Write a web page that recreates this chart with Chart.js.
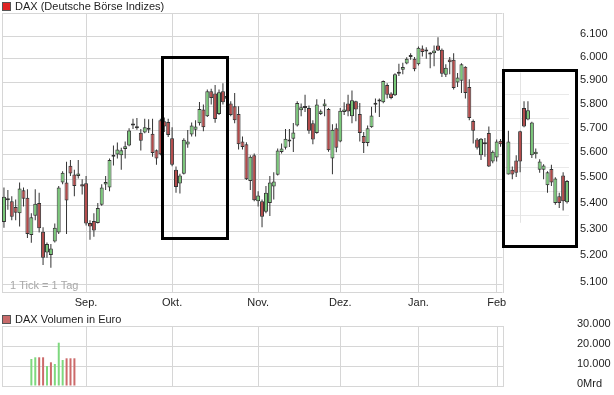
<!DOCTYPE html>
<html>
<head>
<meta charset="utf-8">
<script src="https://cdn.jsdelivr.net/npm/chart.js@4.4.1/dist/chart.umd.min.js"></script>
<style>
    html, body { margin: 0; padding: 0; background: #fff; }
    #wrap { position: relative; width: 614px; height: 395px; overflow: hidden; }
    #price-canvas { position: absolute; left: 0; top: 0; }
    #volume-canvas { position: absolute; left: 0; top: 310px; }
</style>
</head>
<body>
<div id="wrap">
    <canvas id="price-canvas" width="614" height="310"></canvas>
    <canvas id="volume-canvas" width="614" height="85"></canvas>
</div>
<script>
// --- data ---
const TITLE = 'DAX (Deutsche Börse Indizes)';
const VOLUME_TITLE = 'DAX Volumen in Euro';
const TICK_NOTE = '1 Tick = 1 Tag';

const FIRST_DAY = '2009-08-03';
const CLOSED_DAYS = ['2009-12-24', '2009-12-25', '2009-12-31', '2010-01-01'];
const DAY_COUNT = 145;      // trading days on the x axis (incl. the framed inset)
const MAIN_DAY_COUNT = 128; // days inside the regular plot frame
const MONTH_LABELS = ['Jan.', 'Feb', 'Mrz.', 'Apr.', 'Mai', 'Jun.', 'Jul.', 'Aug.', 'Sep.', 'Okt.', 'Nov.', 'Dez.'];

const opens = [
    5333, 5417, 5413, 5391, 5367, 5456, 5427, 5283, 5357, 5407,
    5296, 5217, 5208, 5259, 5293, 5487, 5487, 5554, 5519, 5513,
    5480, 5484, 5329, 5337, 5329, 5400, 5479, 5467, 5590, 5599,
    5596, 5621, 5635, 5717, 5713, 5687, 5688, 5700, 5683, 5616,
    5739, 5735, 5732, 5665, 5538, 5483, 5522, 5639, 5680, 5700,
    5726, 5783, 5755, 5860, 5850, 5765, 5860, 5828, 5808, 5797,
    5765, 5652, 5640, 5493, 5596, 5413, 5413, 5373, 5407, 5471,
    5518, 5609, 5626, 5652, 5663, 5717, 5780, 5790, 5790, 5726,
    5686, 5765, 5797, 5786, 5583, 5706, 5652, 5773, 5808, 5755,
    5818, 5765, 5674, 5645, 5710, 5803, 5817, 5814, 5887, 5850,
    5843, 5934, 5952, 5978, 6006, 5999, 5975, 6043, 6030, 6017,
    6023, 6056, 6038, 5930, 5996, 5995, 5897, 5905, 5964, 5878,
    5736, 5660, 5596, 5640, 5686, 5571, 5587, 5655, null, 5519,
    5538, 5575, 5693, 5790, 5742, 5596, 5600, 5538, 5538, 5476,
    5541, 5407, 5433, 5515, 5409
];
const highs = [
    5467, 5457, 5433, 5420, 5487, 5467, 5460, 5367, 5460, 5447,
    5313, 5255, 5249, 5327, 5473, 5532, 5570, 5577, 5538, 5577,
    5500, 5513, 5340, 5367, 5407, 5480, 5513, 5583, 5635, 5648,
    5626, 5652, 5706, 5745, 5748, 5703, 5745, 5743, 5745, 5619,
    5745, 5750, 5745, 5710, 5551, 5522, 5665, 5699, 5730, 5739,
    5815, 5804, 5867, 5871, 5887, 5867, 5894, 5867, 5818, 5853,
    5797, 5672, 5649, 5596, 5603, 5453, 5420, 5473, 5513, 5528,
    5623, 5643, 5703, 5703, 5727, 5818, 5808, 5845, 5800, 5739,
    5826, 5783, 5826, 5790, 5722, 5725, 5790, 5814, 5845, 5863,
    5820, 5811, 5690, 5717, 5795, 5830, 5830, 5906, 5894, 5856,
    5937, 5977, 5982, 6005, 6023, 6006, 6052, 6056, 6049, 6028,
    6056, 6093, 6043, 5975, 6006, 6023, 5938, 5980, 5967, 5911,
    5742, 5666, 5666, 5666, 5713, 5615, 5660, 5662, null, 5696,
    5551, 5596, 5696, 5818, 5818, 5733, 5623, 5580, 5560, 5532,
    5558, 5508, 5447, 5528, 5497
];
const lows = [
    5311, 5380, 5340, 5340, 5316, 5393, 5272, 5254, 5340, 5293,
    5170, 5197, 5160, 5255, 5287, 5480, 5287, 5513, 5433, 5503,
    5440, 5320, 5265, 5277, 5327, 5396, 5457, 5453, 5555, 5583,
    5538, 5583, 5632, 5703, 5700, 5615, 5685, 5686, 5590, 5558,
    5596, 5690, 5670, 5552, 5447, 5444, 5519, 5626, 5672, 5672,
    5717, 5693, 5752, 5804, 5728, 5761, 5804, 5740, 5755, 5726,
    5619, 5619, 5497, 5457, 5413, 5393, 5313, 5367, 5356, 5420,
    5515, 5603, 5619, 5629, 5609, 5713, 5755, 5773, 5683, 5640,
    5683, 5761, 5755, 5610, 5520, 5608, 5649, 5761, 5755, 5726,
    5735, 5652, 5605, 5632, 5708, 5770, 5752, 5810, 5830, 5826,
    5840, 5925, 5932, 5975, 5995, 5945, 5970, 6009, 5999, 5958,
    5967, 6032, 5920, 5920, 5932, 5867, 5878, 5853, 5830, 5739,
    5643, 5619, 5577, 5590, 5549, 5564, 5571, 5630, null, 5519,
    5500, 5509, 5528, 5710, 5739, 5585, 5583, 5526, 5500, 5447,
    5473, 5400, 5387, 5377, 5405
];
const closes = [
    5431, 5425, 5353, 5369, 5463, 5423, 5287, 5351, 5404, 5309,
    5197, 5249, 5232, 5311, 5467, 5526, 5416, 5523, 5473, 5523,
    5471, 5327, 5316, 5300, 5387, 5467, 5489, 5577, 5596, 5619,
    5616, 5632, 5697, 5724, 5706, 5655, 5710, 5708, 5605, 5583,
    5600, 5713, 5678, 5558, 5469, 5515, 5659, 5652, 5717, 5713,
    5786, 5710, 5860, 5832, 5744, 5856, 5814, 5840, 5761, 5739,
    5640, 5629, 5500, 5590, 5417, 5436, 5353, 5447, 5487, 5491,
    5615, 5623, 5663, 5660, 5688, 5811, 5793, 5797, 5696, 5660,
    5804, 5776, 5808, 5616, 5700, 5626, 5778, 5783, 5775, 5822,
    5783, 5686, 5645, 5706, 5758, 5808, 5822, 5904, 5845, 5832,
    5932, 5941, 5963, 5999, 6009, 5954, 6047, 6028, 6035, 6021,
    6035, 6035, 5934, 5960, 5984, 5874, 5918, 5975, 5853, 5748,
    5696, 5626, 5663, 5643, 5551, 5610, 5652, 5640, null, 5652,
    5519, 5526, 5571, 5713, 5780, 5730, 5610, 5571, 5555, 5528,
    5487, 5503, 5407, 5413, 5493
];

const priceTicks = [5100, 5200, 5300, 5400, 5500, 5600, 5700, 5800, 5900, 6000, 6100, 6200];
const PRICE_MIN = 5067;
const PRICE_MAX = 6200;

// faint grid of the framed inset on the right
const insetGrid = [5850, 5748, 5645, 5548, 5452, 5360];
const insetMarkDay = 132;
const insetMarkRange = [5330, 5940];

// annotation frames, in (day index, price) units
const frames = [
    {from: 40.3, to: 57.0, top: 6005, bottom: 5272},
    {from: 127.55, to: 146.3, top: 5951, bottom: 5241}
];

const VOLUME_FIRST_DAY = 7;
const volumeValues = [13500, 14350, 14350, 14350, 10000, 11850, 11000, 21650, 13000, 13850, 13850, 13850];
const volumeUp = [true, true, false, false, true, false, true, true, true, false, false, false];
const volumeTicks = [0, 10000, 20000, 30000];

// --- styles ---
const FONT = '"Liberation Sans", Arial, sans-serif';
const TEXT = '#1e1e1e';
const GRID = '#d6d6d6';
const UP = '#78c878';
const DOWN = '#b44a4a';
const EDGE = '#333333';
const VOL_UP = '#7ed87e';
const VOL_DOWN = '#cc6a6a';
const NONE = 'rgba(0,0,0,0)';

// --- helpers ---
function pad2(n) { return (n < 10 ? '0' : '') + n; }
function isoDate(d) { return d.getFullYear() + '-' + pad2(d.getMonth() + 1) + '-' + pad2(d.getDate()); }

const tradingDays = [];
{
    const d = new Date(FIRST_DAY + 'T12:00:00');
    while (tradingDays.length < DAY_COUNT) {
        const wd = d.getDay();
        const s = isoDate(d);
        if (wd !== 0 && wd !== 6 && CLOSED_DAYS.indexOf(s) < 0) {
            tradingDays.push(s);
        }
        d.setDate(d.getDate() + 1);
    }
}

function monthLabelAt(i) {
    if (i <= 0 || i >= MAIN_DAY_COUNT) return '';
    const m = tradingDays[i].slice(5, 7);
    if (m === tradingDays[i - 1].slice(5, 7)) return '';
    return MONTH_LABELS[parseInt(m, 10) - 1];
}

function fmtThousands(v) {
    if (v < 1000) return String(v);
    return Math.floor(v / 1000) + '.' + String(v % 1000).padStart(3, '0');
}

function drawHeader(ctx, text, boxColor, cy) {
    ctx.save();
    ctx.fillStyle = boxColor;
    ctx.fillRect(3, cy - 3.5, 7, 7);
    ctx.strokeStyle = '#555';
    ctx.lineWidth = 1;
    ctx.strokeRect(2.5, cy - 4, 8, 8);
    ctx.fillStyle = TEXT;
    ctx.font = '11px ' + FONT;
    ctx.textBaseline = 'middle';
    ctx.textAlign = 'left';
    ctx.fillText(text, 15, cy);
    ctx.restore();
}

function hLine(ctx, x0, x1, y, color) {
    ctx.strokeStyle = color;
    ctx.beginPath();
    ctx.moveTo(x0, Math.round(y) + 0.5);
    ctx.lineTo(x1, Math.round(y) + 0.5);
    ctx.stroke();
}

function vLine(ctx, x, y0, y1, color) {
    ctx.strokeStyle = color;
    ctx.beginPath();
    ctx.moveTo(Math.round(x) + 0.5, y0);
    ctx.lineTo(Math.round(x) + 0.5, y1);
    ctx.stroke();
}

// --- price chart ---
const priceDecor = {
    id: 'priceDecor',
    beforeDatasetsDraw(chart) {
        const {ctx, chartArea: area, scales: {x, y}} = chart;
        const frameRight = (x.getPixelForValue(MAIN_DAY_COUNT - 1) + x.getPixelForValue(MAIN_DAY_COUNT)) / 2;
        ctx.save();
        ctx.lineWidth = 1;
        priceTicks.forEach(v => hLine(ctx, area.left, frameRight, y.getPixelForValue(v), GRID));
        hLine(ctx, area.left, frameRight, area.bottom - 1, GRID);
        vLine(ctx, area.left, area.top, area.bottom, GRID);
        vLine(ctx, frameRight, area.top, area.bottom, GRID);

        // inset grid
        const insetLeft = x.getPixelForValue(frames[1].from);
        insetGrid.forEach(v => hLine(ctx, insetLeft, area.right, y.getPixelForValue(v), '#e9e9e9'));
        vLine(ctx, x.getPixelForValue(insetMarkDay), y.getPixelForValue(insetMarkRange[1]),
            y.getPixelForValue(insetMarkRange[0]), '#e3e3e3');

        ctx.fillStyle = '#a8a8a8';
        ctx.font = '11px ' + FONT;
        ctx.textBaseline = 'middle';
        ctx.fillText(TICK_NOTE, area.left + 8, area.bottom - 7);
        ctx.restore();
    },
    afterDatasetsDraw(chart) {
        const {ctx, scales: {x, y}} = chart;
        ctx.save();
        ctx.strokeStyle = '#000';
        ctx.lineWidth = 3;
        frames.forEach(f => {
            const l = Math.round(x.getPixelForValue(f.from)) + 0.5;
            const r = Math.round(x.getPixelForValue(f.to)) + 0.5;
            const t = Math.round(y.getPixelForValue(f.top)) + 0.5;
            const b = Math.round(y.getPixelForValue(f.bottom)) + 0.5;
            ctx.strokeRect(l, t, r - l, b - t);
        });
        ctx.restore();
    },
    afterDraw(chart) {
        drawHeader(chart.ctx, TITLE, '#e02424', 6.5);
    }
};

const bodyData = opens.map((o, i) => o === null ? null : [o, closes[i]]);
const wickData = lows.map((l, i) => l === null ? null : [l, highs[i]]);
const bodyColors = opens.map((o, i) => closes[i] >= o ? UP : DOWN);

const priceChart = new Chart(document.getElementById('price-canvas'), {
    type: 'bar',
    data: {
        labels: tradingDays,
        datasets: [
            {
                label: 'body',
                data: bodyData,
                backgroundColor: bodyColors,
                borderColor: EDGE,
                borderWidth: 1,
                borderSkipped: false,
                barThickness: 4,
                minBarLength: 2,
                inflateAmount: 0,
                grouped: false,
                clip: false
            },
            {
                label: 'wick',
                data: wickData,
                backgroundColor: EDGE,
                borderWidth: 0,
                barThickness: 1,
                inflateAmount: 0,
                grouped: false,
                clip: false
            }
        ]
    },
    options: {
        responsive: false,
        animation: false,
        devicePixelRatio: 1,
        layout: {padding: {left: 2, top: 13, right: 0, bottom: 0}},
        plugins: {legend: {display: false}, tooltip: {enabled: false}},
        scales: {
            x: {
                type: 'category',
                offset: true,
                grid: {
                    offset: false,
                    drawTicks: false,
                    color: c => monthLabelAt(c.index) ? GRID : NONE
                },
                border: {display: false},
                ticks: {
                    autoSkip: false,
                    maxRotation: 0,
                    minRotation: 0,
                    padding: 3,
                    color: TEXT,
                    font: {family: FONT, size: 11},
                    callback: (v, i) => monthLabelAt(i)
                },
                afterFit: s => { s.height = 17; }
            },
            y: {
                type: 'logarithmic',
                position: 'right',
                min: PRICE_MIN,
                max: PRICE_MAX,
                // tick marks are hidden, their length only pushes the labels out
                grid: {display: false, drawTicks: true, tickLength: 11},
                border: {display: false},
                ticks: {
                    padding: 0,
                    labelOffset: -2,
                    color: TEXT,
                    font: {family: FONT, size: 11},
                    callback: v => v === PRICE_MAX ? '' : fmtThousands(v)
                },
                afterBuildTicks: s => { s.ticks = priceTicks.map(v => ({value: v})); },
                afterFit: s => { s.width = 45; }
            }
        }
    },
    plugins: [priceDecor]
});

// --- volume chart ---
const volumeDays = tradingDays.slice(0, MAIN_DAY_COUNT);
const volumeData = volumeDays.map((d, i) => {
    const k = i - VOLUME_FIRST_DAY;
    return k >= 0 && k < volumeValues.length ? volumeValues[k] : null;
});
const volumeColors = volumeDays.map((d, i) => {
    const k = i - VOLUME_FIRST_DAY;
    return k >= 0 && k < volumeUp.length && !volumeUp[k] ? VOL_DOWN : VOL_UP;
});

const volumeDecor = {
    id: 'volumeDecor',
    beforeDatasetsDraw(chart) {
        const {ctx, chartArea: area} = chart;
        ctx.save();
        ctx.lineWidth = 1;
        vLine(ctx, area.left, area.top, area.bottom, GRID);
        ctx.restore();
    },
    afterDraw(chart) {
        drawHeader(chart.ctx, VOLUME_TITLE, '#c86a6a', 9.5);
    }
};

const volumeChart = new Chart(document.getElementById('volume-canvas'), {
    type: 'bar',
    data: {
        labels: volumeDays,
        datasets: [{
            label: VOLUME_TITLE,
            data: volumeData,
            backgroundColor: volumeColors,
            borderWidth: 0,
            barThickness: 2,
            inflateAmount: 0
        }]
    },
    options: {
        responsive: false,
        animation: false,
        devicePixelRatio: 1,
        layout: {padding: {left: 2, top: 16, right: 0, bottom: 9}},
        plugins: {legend: {display: false}, tooltip: {enabled: false}},
        scales: {
            x: {
                type: 'category',
                offset: true,
                grid: {
                    offset: false,
                    drawTicks: false,
                    color: c => monthLabelAt(c.index) ? GRID : NONE
                },
                border: {display: false},
                ticks: {display: false, autoSkip: false, maxRotation: 0},
                afterFit: s => { s.height = 0; }
            },
            y: {
                position: 'right',
                min: 0,
                max: 30000,
                grid: {color: GRID, drawTicks: true, tickLength: 74, tickColor: NONE},
                border: {display: true, color: GRID},
                ticks: {
                    padding: 0,
                    labelOffset: -2,
                    color: TEXT,
                    font: {family: FONT, size: 11},
                    callback: v => v === 0 ? '0Mrd' : fmtThousands(v)
                },
                afterBuildTicks: s => { s.ticks = volumeTicks.map(v => ({value: v})); },
                afterFit: s => { s.width = 111; }
            }
        }
    },
    plugins: [volumeDecor]
});
</script>
</body>
</html>
